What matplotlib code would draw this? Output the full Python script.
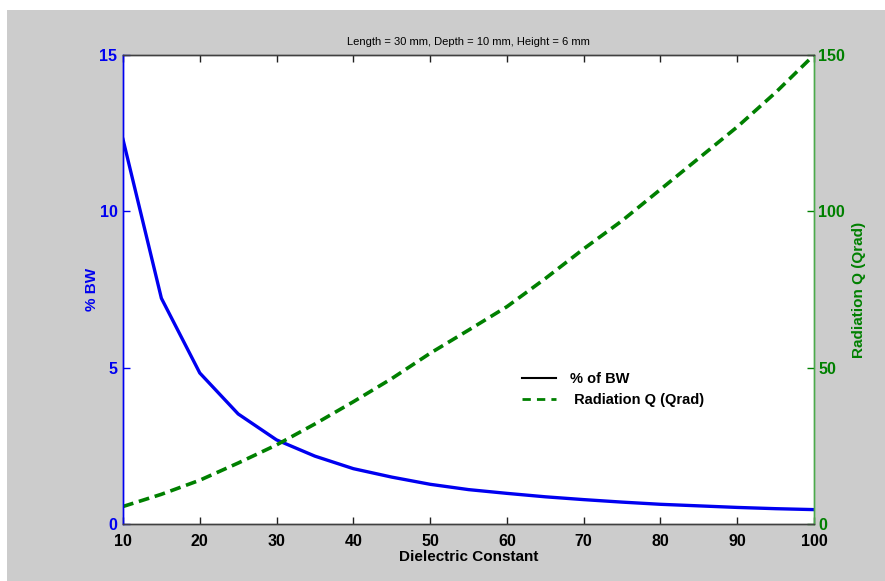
import matplotlib
matplotlib.use("Agg")
import matplotlib.pyplot as plt
from matplotlib.lines import Line2D
from matplotlib.patches import Rectangle

dielectric = [10, 15, 20, 25, 30, 35, 40, 45, 50, 55, 60, 65, 70, 75, 80, 85, 90, 95, 100]
bw_percent = [12.3, 7.22, 4.83, 3.52, 2.69, 2.17, 1.77, 1.50, 1.27, 1.10, 0.98, 0.87,
              0.78, 0.70, 0.63, 0.58, 0.53, 0.49, 0.46]
q_rad = [5.6, 9.5, 14.0, 19.5, 25.3, 32.0, 39.1, 46.5, 54.6, 62.0, 69.5, 78.5,
         88.0, 97.0, 107.0, 117.0, 127.0, 138.0, 150.0]
x_ticks = [10, 20, 30, 40, 50, 60, 70, 80, 90, 100]
left_ticks = [0, 5, 10, 15]
right_ticks = [0, 50, 100, 150]

title = "Length = 30 mm, Depth = 10 mm, Height = 6 mm"
BLUE = "#0000f0"
GREEN = "#008000"
GREY = "#cccccc"
FONT = "Liberation Sans"

plt.rcParams["font.family"] = [FONT, "DejaVu Sans"]

fig = plt.figure(figsize=(8.85, 5.81), dpi=100, facecolor="white")
# grey figure background (white margin at top and left)
fig.patches.append(Rectangle((7 / 885, 0), 1 - 7 / 885, 1 - 10 / 581,
                             transform=fig.transFigure, facecolor=GREY,
                             edgecolor="none", zorder=-10))

ax = fig.add_axes([123 / 885, 1 - 524 / 581, (814 - 123) / 885, (524 - 55) / 581])
ax2 = ax.twinx()

ax.plot(dielectric, bw_percent, color=BLUE, lw=2.4, solid_joinstyle="miter")
ax2.plot(dielectric, q_rad, color=GREEN, lw=2.6, ls=(0, (3.0, 1.6)))

ax.set_xlim(10, 100)
ax.set_ylim(0, 15)
ax2.set_ylim(0, 150)
ax.set_xticks(x_ticks)
ax.set_yticks(left_ticks)
ax2.set_yticks(right_ticks)

for a in (ax, ax2):
    for s in a.spines.values():
        s.set_linewidth(1.0)
    a.spines["top"].set_color("#404040")
    a.spines["bottom"].set_color("#404040")
    a.spines["left"].set_color(BLUE)
    a.spines["right"].set_color("#4caa4c")

TS = 11.5
ax.tick_params(axis="x", direction="in", length=5, width=1, color="#202020",
               top=True, labelsize=TS, pad=7)
ax.tick_params(axis="y", direction="in", length=5, width=1, color=BLUE,
               labelcolor=BLUE, labelsize=TS, pad=4)
ax2.tick_params(axis="y", direction="in", length=5, width=1, color=GREEN,
                labelcolor=GREEN, labelsize=TS, pad=3)
for lbl in ax.get_xticklabels() + ax.get_yticklabels() + ax2.get_yticklabels():
    lbl.set_fontweight("bold")

ax.set_xlabel("Dielectric Constant", fontsize=11, fontweight="bold", labelpad=1)
ax.set_ylabel("% BW", fontsize=11, fontweight="bold", color=BLUE, labelpad=0)
ax2.set_ylabel("Radiation Q (Qrad)", fontsize=11, fontweight="bold", color=GREEN, labelpad=5)
ax.set_title(title, fontsize=8, pad=7)

handles = [Line2D([], [], color="black", lw=1.5),
           Line2D([], [], color=GREEN, lw=2.0, ls=(0, (3.0, 2.2)))]
leg = ax2.legend(handles, ["% of BW", " Radiation Q (Qrad)"], loc="upper left",
                 bbox_to_anchor=((512 - 123) / 691, (524 - 362) / 469),
                 frameon=False, prop={"family": FONT, "weight": "bold", "size": 10.5},
                 handlelength=2.3, handletextpad=1.0, labelspacing=0.45, borderpad=0.2)

fig.savefig("out.png", dpi=100, facecolor=fig.get_facecolor())
